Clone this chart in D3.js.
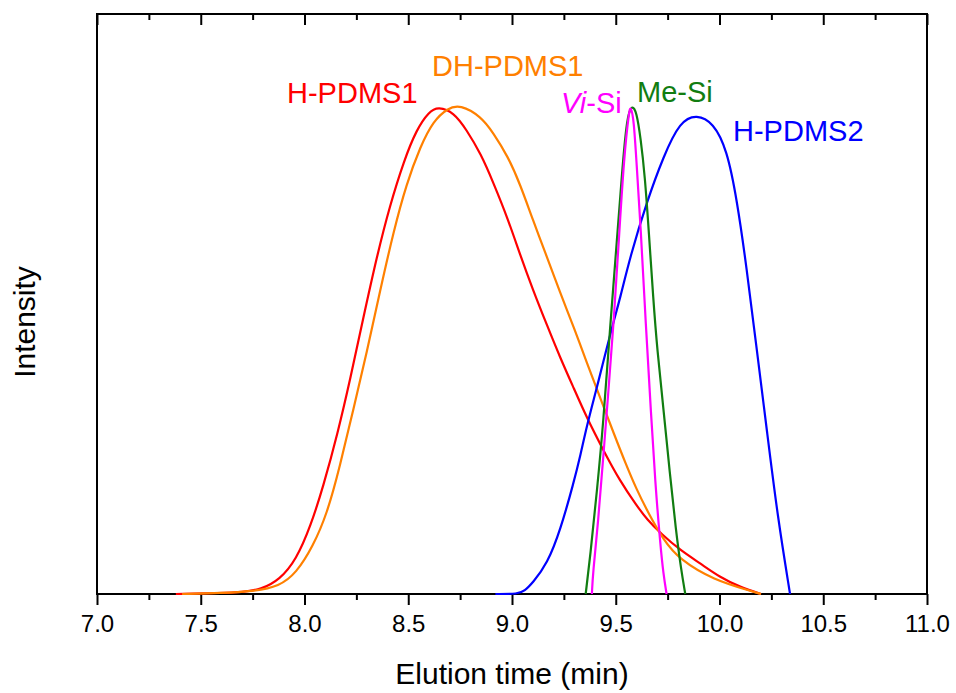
<!DOCTYPE html>
<html>
<head>
<meta charset="utf-8">
<script src="https://cdn.jsdelivr.net/npm/d3@7"></script>
<style>
  html, body { margin: 0; padding: 0; background: #fff; }
  svg { display: block; font-family: "Liberation Sans", Arial, sans-serif; }
</style>
</head>
<body>
<svg id="chart" width="956" height="693"></svg>
<script>
// ---- data (elution time in min, normalised intensity) ----
const hPDMS1 = [
  [7.38,0],[7.60,0.002],[7.70,0.004],[7.79,0.009],[7.88,0.029],[7.96,0.07],[8.03,0.14],
  [8.09,0.22],[8.16,0.33],[8.22,0.44],[8.28,0.56],[8.35,0.695],[8.41,0.795],[8.48,0.89],
  [8.54,0.953],[8.60,0.99],[8.645,1.0],[8.72,0.988],[8.78,0.953],[8.85,0.903],[8.91,0.844],
  [8.98,0.77],[9.04,0.695],[9.10,0.625],[9.17,0.55],[9.23,0.487],[9.30,0.42],[9.36,0.362],
  [9.44,0.295],[9.52,0.232],[9.60,0.182],[9.65,0.153],[9.72,0.123],[9.81,0.09],[9.91,0.062],
  [10.0,0.035],[10.1,0.014],[10.2,0.0]
];
const dhPDMS1 = [
  [7.41,0],[7.60,0.002],[7.75,0.005],[7.88,0.016],[7.96,0.043],[8.04,0.097],[8.11,0.166],
  [8.17,0.261],[8.235,0.378],[8.30,0.495],[8.365,0.624],[8.43,0.745],[8.49,0.84],[8.56,0.92],
  [8.62,0.97],[8.69,0.997],[8.75,1.004],[8.85,0.98],[8.91,0.946],[8.98,0.898],[9.04,0.84],
  [9.10,0.768],[9.17,0.69],[9.23,0.62],[9.30,0.545],[9.36,0.475],[9.43,0.397],[9.49,0.33],
  [9.55,0.265],[9.60,0.215],[9.65,0.172],[9.73,0.11],[9.81,0.07],[9.97,0.029],[10.16,0.005],[10.2,0]
];
const viSi = [
  [9.385,0],[9.39,0.043],[9.415,0.146],[9.44,0.282],[9.465,0.419],[9.49,0.556],[9.515,0.727],
  [9.54,0.898],[9.565,0.994],[9.572,1.0],[9.587,0.975],[9.60,0.885],[9.62,0.755],[9.645,0.55],
  [9.67,0.37],[9.69,0.23],[9.715,0.10],[9.73,0.04],[9.745,0]
];
const meSi = [
  [9.355,0],[9.377,0.077],[9.41,0.214],[9.44,0.35],[9.474,0.556],[9.506,0.727],[9.53,0.864],
  [9.554,0.98],[9.578,1.004],[9.60,0.99],[9.62,0.935],[9.64,0.86],[9.66,0.74],[9.68,0.61],
  [9.70,0.50],[9.73,0.38],[9.76,0.25],[9.79,0.13],[9.815,0.05],[9.835,0]
];
const hPDMS2 = [
  [8.92,0],[9.03,0],[9.06,0.006],[9.10,0.023],[9.17,0.062],[9.233,0.131],[9.297,0.228],
  [9.33,0.285],[9.36,0.344],[9.41,0.425],[9.43,0.46],[9.49,0.56],[9.52,0.605],[9.57,0.693],
  [9.65,0.805],[9.73,0.898],[9.81,0.97],[9.89,0.984],[9.97,0.967],[10.036,0.912],[10.084,0.809],
  [10.13,0.672],[10.18,0.50],[10.23,0.33],[10.28,0.159],[10.34,0]
];
const majorTicks = [7.0,7.5,8.0,8.5,9.0,9.5,10.0,10.5,11.0];
const minorTicks = [7.25,7.75,8.25,8.75,9.25,9.75,10.25,10.75];
const seriesNames = ["H-PDMS1","DH-PDMS1","Vi-Si","Me-Si","H-PDMS2"];
const xLabel = "Elution time (min)";
const yLabel = "Intensity";

// ---- layout ----
const svg = d3.select("#chart");
const L = 97, R = 927, T = 14, B = 594;
const x = d3.scaleLinear().domain([7, 11]).range([L, R]);
const y = d3.scaleLinear().domain([0, 1.19]).range([B, T]);

const series = [
  {name: seriesNames[0], data: hPDMS1, color: "#ff0000"},
  {name: seriesNames[1], data: dhPDMS1, color: "#ff8000"},
  {name: seriesNames[4], data: hPDMS2, color: "#0000ff"},
  {name: seriesNames[3], data: meSi, color: "#117d11"},
  {name: seriesNames[2], data: viSi, color: "#ff00ff"}
];

// ---- axes ----
function styleAxis(g) {
  g.select(".domain").remove();
  g.selectAll(".tick line").attr("stroke", "#000").attr("stroke-width", 2);
  g.selectAll(".tick text").attr("fill", "#000").attr("font-size", "24px")
    .attr("font-family", "'Liberation Sans', Arial, sans-serif");
}
svg.append("g").attr("transform", `translate(0,${B})`)
  .call(d3.axisBottom(x).tickValues(majorTicks).tickSize(11).tickPadding(10).tickFormat(d3.format(".1f")))
  .call(styleAxis);
svg.append("g").attr("transform", `translate(0,${B})`)
  .call(d3.axisBottom(x).tickValues(minorTicks).tickSize(6).tickFormat(""))
  .call(styleAxis);
svg.append("g").attr("transform", `translate(0,${T})`)
  .call(d3.axisTop(x).tickValues(majorTicks).tickSize(-11).tickFormat(""))
  .call(styleAxis);
svg.append("g").attr("transform", `translate(0,${T})`)
  .call(d3.axisTop(x).tickValues(minorTicks).tickSize(-6).tickFormat(""))
  .call(styleAxis);

svg.append("rect")
  .attr("x", L).attr("y", T).attr("width", R - L).attr("height", B - T)
  .attr("fill", "none").attr("stroke", "#000").attr("stroke-width", 2);

// ---- curves (on top of frame) ----
const line = d3.line().x(d => x(d[0])).y(d => y(d[1])).curve(d3.curveBasis);
svg.append("g").selectAll("path").data(series).join("path")
  .attr("d", d => line(d.data))
  .attr("fill", "none")
  .attr("stroke", d => d.color)
  .attr("stroke-width", 2.2)
  .attr("stroke-linejoin", "round");

// ---- titles ----
svg.append("text").attr("x", (L + R) / 2).attr("y", 684)
  .attr("text-anchor", "middle").attr("font-size", "30px").text(xLabel);
svg.append("text").attr("transform", "translate(35,322) rotate(-90)")
  .attr("text-anchor", "middle").attr("font-size", "30px").text(yLabel);

// ---- labels ----
const fs = "29px";
svg.append("text").attr("x", 287).attr("y", 103).attr("font-size", fs).attr("fill", "#ff0000").text(seriesNames[0]);
svg.append("text").attr("x", 432).attr("y", 76).attr("font-size", fs).attr("fill", "#ff8000").text(seriesNames[1]);
const vi = svg.append("text").attr("x", 561).attr("y", 113).attr("font-size", fs).attr("fill", "#ff00ff");
vi.append("tspan").attr("font-style", "italic").text("Vi");
vi.append("tspan").text("-Si");
svg.append("text").attr("x", 637).attr("y", 102).attr("font-size", fs).attr("fill", "#117d11").text(seriesNames[3]);
svg.append("text").attr("x", 733).attr("y", 141).attr("font-size", fs).attr("fill", "#0000ff").text(seriesNames[4]);
</script>
</body>
</html>
